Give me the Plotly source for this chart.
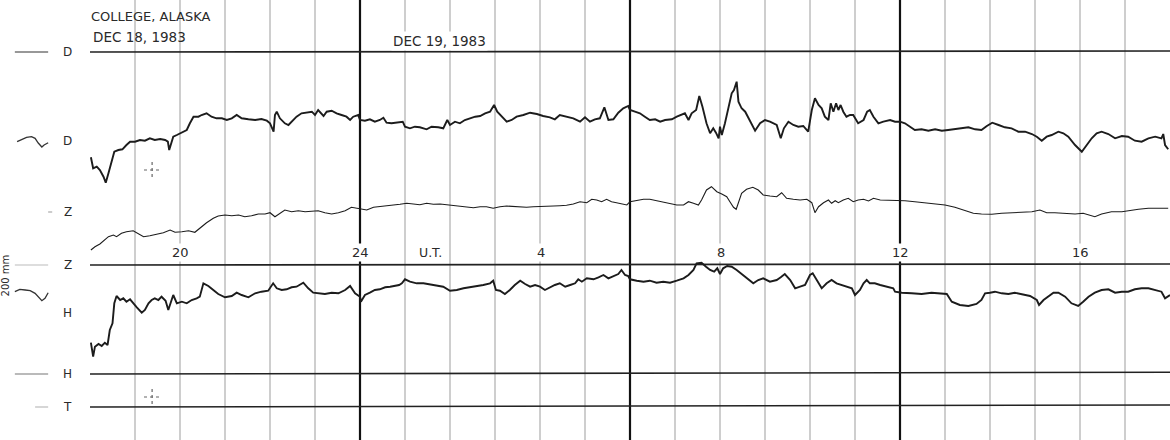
import plotly.graph_objects as go

# ---------------- data ----------------
# time axis: hours UT counted from 00 UT Dec 18 (18 -> 18 UT Dec 18, 42 -> 18 UT Dec 19)
# values: trace position on the record (chart units, increasing downward)

D_hours = [18.02,18.07,18.15,18.22,18.30,18.35,18.41,18.48,18.54,18.63,18.72,18.81,18.89,19.00,19.11,19.22,19.33,19.44,19.56,19.67,
           19.73,19.76,19.80,19.85,19.93,20.04,20.15,20.22,20.30,20.41,20.48,20.59,20.70,20.81,20.93,21.04,21.15,21.26,21.37,21.52,
           21.67,21.81,21.93,22.00,22.05,22.08,22.11,22.15,22.22,22.33,22.41,22.52,22.59,22.70,22.81,22.93,23.00,23.07,23.19,23.26,
           23.37,23.48,23.59,23.70,23.78,23.85,23.96,
           24.00,24.11,24.22,24.33,24.44,24.52,24.59,24.70,24.81,24.95,25.00,25.11,25.22,25.33,25.48,25.59,25.74,25.85,25.94,26.00,
           26.11,26.22,26.33,26.44,26.56,26.67,26.78,26.89,26.98,27.05,27.15,27.26,27.37,27.48,27.63,27.78,27.93,28.07,28.22,28.33,
           28.44,28.59,28.74,28.89,29.00,29.11,29.22,29.33,29.43,29.52,29.63,29.74,29.85,29.96,
           30.00,30.11,30.22,30.33,30.44,30.56,30.67,30.78,30.93,31.04,31.15,31.22,31.30,31.37,31.47,31.54,31.61,31.70,31.78,31.85,
           31.91,31.97,32.00,32.04,32.11,32.19,32.26,32.31,32.37,32.41,32.48,32.56,32.67,32.78,32.89,33.00,33.11,33.26,33.35,33.42,
           33.52,33.63,33.74,33.85,33.96,34.04,34.11,34.19,34.26,34.33,34.41,34.46,34.52,34.58,34.63,34.68,34.74,34.81,34.89,34.96,
           35.07,35.19,35.27,35.33,35.41,35.52,35.63,35.78,
           35.89,36.00,36.11,36.22,36.33,36.48,36.63,36.78,36.93,37.07,37.22,37.37,37.52,37.67,37.81,37.93,38.05,38.19,38.33,38.48,
           38.63,38.78,38.93,39.04,39.15,39.26,39.37,39.52,39.63,39.74,39.89,40.04,40.15,40.26,40.37,40.48,40.63,40.78,40.93,41.07,
           41.22,41.37,41.52,41.67,41.81,41.85,41.89,41.96]
D_vals = [157.3,168.3,166.7,170,176.7,182.7,173.3,160,151.7,150,149.3,145,141.7,141.7,140,140.7,138.3,140,139,140,
          141.7,150,143.3,136.7,135,132.7,130,123.3,116.7,116.7,115,113.3,116.7,118.3,118.3,120,118.3,115,118.3,119.3,
          120,119,120.7,123.3,128.3,131.7,115,111.7,118.3,123.3,125,120,116.7,113.3,112.7,111.7,115,110,116,111.7,
          110.7,113.3,115,116.7,120,116.7,115,
          120,120.7,119.3,121.7,120,117.7,122.7,123.3,122.7,121.7,126.7,128.3,126.7,127.3,129.3,126.7,127.3,128.3,120,125,
          121.7,123.3,120,118.3,116.7,116,113.3,111.7,105,111.7,116.7,121.7,120,116.7,115,112.7,114,116,117.3,119.3,
          115,116.7,118.3,121.7,117.3,121.7,119.3,118.3,107.3,120,119.3,112.7,108.3,106,
          110,111.7,113.3,116.7,120,119.3,121.7,120,119.3,116.7,115,113.3,120,113.3,110,96,106.7,123.3,133.3,128.3,
          132.7,138.3,126.7,135,123.3,106.7,93.3,90,81.7,101.7,108.3,111.7,121.7,130.7,123.3,120,121.7,125,138.3,128.3,
          121.7,125,126.7,126,131.7,110,98.3,105,108.3,116.7,120,103.3,111.7,103.3,110,105,111.7,116.7,115,115,
          123.3,120,111.7,110,116.7,123.3,121.7,120,
          121.7,121.7,123.3,126.7,130,129.3,130.7,129.3,130.7,130,129.3,128.3,127.3,129.3,130,126,122.7,125,127.3,128.3,
          131.7,131.7,134,136.7,140.7,136.7,135,131.7,133.3,136.7,145,151.7,145,138.3,133.3,131.7,134,138.3,136,136.7,
          140.7,141.7,138.3,136.7,138.3,134,145,149.3]

Z_hours = [18.02,18.11,18.22,18.33,18.41,18.52,18.59,18.70,18.81,18.96,19.07,19.19,19.33,19.48,19.63,19.78,19.89,20.04,20.19,20.33,
           20.44,20.59,20.74,20.85,21.00,21.15,21.30,21.44,21.59,21.74,21.89,22.00,22.11,22.19,22.33,22.48,22.63,22.78,22.93,23.07,
           23.22,23.37,23.52,23.67,23.81,23.96,
           24.00,24.15,24.30,24.44,24.59,24.74,24.89,25.04,25.19,25.33,25.48,25.63,25.78,25.93,26.07,26.22,26.37,26.52,26.67,26.81,
           26.96,27.11,27.26,27.41,27.56,27.70,27.85,28.00,28.15,28.30,28.44,28.59,28.74,28.89,29.04,29.15,29.26,29.37,29.48,29.59,
           29.70,29.81,29.93,
           30.00,30.15,30.30,30.44,30.59,30.74,30.89,31.04,31.19,31.30,31.41,31.52,31.59,31.70,31.81,31.93,32.04,32.15,32.22,32.30,
           32.36,32.41,32.48,32.59,32.73,32.85,32.96,33.11,33.26,33.37,33.48,33.63,33.78,33.93,34.04,34.11,34.19,34.30,34.41,34.48,
           34.56,34.63,34.74,34.85,34.96,35.07,35.19,35.30,35.41,35.56,35.70,35.85,
           35.89,36.11,36.33,36.55,36.78,37.00,37.22,37.44,37.63,37.81,38.04,38.26,38.48,38.70,38.93,39.11,39.26,39.44,39.67,39.89,
           40.07,40.19,40.33,40.48,40.70,40.93,41.07,41.30,41.52,41.74,41.96]
Z_vals = [250,246.7,244,240,236.7,235,236.7,233.3,231.7,230.7,233.3,236.7,235.7,234.3,232.7,230,232.3,231.7,230.7,232.3,
          228.3,222.7,218.3,216,215,215.7,215,216.7,215.7,214,214,212.7,216.7,214,210,211.7,210.7,211.7,211,210.7,
          212.7,214,212.7,210.7,207.3,208.3,
          209.3,210,207.3,206.7,206,205.3,204.3,203.3,204,204.7,203.3,204.3,204,204.7,206,206,207.3,207.7,206.7,206.7,
          208.3,206.7,206,206.7,207.3,207.3,206.7,206.7,206.7,206,205.7,205.3,204,201.7,202.7,199.3,200,201.7,199.3,201.7,
          202.7,204,205,
          201.7,200.7,199.3,199.3,200.7,202.7,204,205,205,201.7,203.3,205,200,190,186.7,191.7,194,196.7,201.7,207.3,
          209.3,201.7,193.3,189.3,187.3,190,195,196,196.7,192.7,198.3,199.3,200,199.3,202.7,212.7,206.7,202.7,200,203.3,
          200.7,202.7,200,198.3,201.7,200,199.3,201,198.3,200,200,200,
          200,200.7,201.7,202.7,204,205,207.3,210.7,213.3,214,214.3,213.3,212.7,211.7,211.7,210,212.7,212.7,213.3,214,
          213.3,215,216.7,214,211.7,211.7,210.7,209.3,208.3,208.3,208.3]

H_hours = [18.02,18.07,18.11,18.19,18.26,18.33,18.39,18.44,18.50,18.54,18.59,18.67,18.74,18.81,18.89,18.96,19.04,19.15,19.22,19.30,
           19.37,19.44,19.52,19.59,19.68,19.74,19.80,19.85,19.93,20.04,20.15,20.26,20.37,20.44,20.52,20.63,20.74,20.85,21.00,21.15,
           21.26,21.37,21.52,21.67,21.81,21.96,22.07,22.15,22.26,22.37,22.48,22.59,22.74,22.85,22.96,23.07,23.22,23.37,23.52,23.67,
           23.78,23.89,24.00,24.02,
           24.11,24.22,24.33,24.44,24.56,24.67,24.78,24.87,24.93,25.00,25.11,25.26,25.41,25.56,25.70,25.85,26.00,26.15,26.30,26.44,
           26.59,26.74,26.89,26.96,27.02,27.11,27.22,27.33,27.44,27.56,27.67,27.78,27.89,28.00,28.11,28.22,28.33,28.44,28.56,28.67,
           28.78,28.85,28.93,29.04,29.19,29.30,29.41,29.52,29.63,29.74,29.81,29.89,29.96,
           30.00,30.15,30.30,30.44,30.59,30.74,30.89,31.04,31.19,31.30,31.41,31.48,31.59,31.69,31.78,31.87,31.94,32.00,32.07,32.16,
           32.26,32.37,32.48,32.59,32.74,32.85,32.96,33.11,33.26,33.35,33.44,33.56,33.67,33.78,33.89,34.00,34.06,34.15,34.26,34.37,
           34.48,34.59,34.70,34.81,34.93,35.00,35.11,35.19,35.26,35.33,35.44,35.56,35.70,35.85,
           35.89,36.04,36.26,36.48,36.70,36.93,37.04,37.15,37.33,37.52,37.70,37.81,37.89,38.00,38.11,38.26,38.41,38.55,38.70,38.89,
           39.04,39.09,39.19,39.30,39.41,39.52,39.67,39.81,39.96,40.07,40.19,40.33,40.48,40.63,40.78,40.93,41.07,41.22,41.37,41.52,
           41.67,41.81,41.89,42.00]
H_vals = [342.7,356.7,346.7,344,346,342.7,345,330,323.3,303.3,296,300,298.3,301.7,299.3,303.3,307.3,312.7,310,303.3,
          300,298.3,300,296.7,300.7,310,301.7,295,303.3,301.7,303.3,300,298.3,296.7,283.3,286,290,294,297.3,296,
          292.7,295,297.3,293.3,291.7,290.7,283.3,288.3,290,289.3,287.3,286.7,282.7,288.3,292.7,293.3,294,292.7,293.3,290,
          286,293.3,296.7,301.7,
          295,292.7,290,289.3,287.3,286.7,286,285,283.3,279.3,281.7,283.3,283.3,284.3,285,286.7,290.7,290,288.3,287.3,
          286,285,283.3,280.7,290,290.7,294,290,285,280.7,284,286.7,285,286.7,290,287.3,285,283.3,286.7,285,
          283.3,279.3,281.7,278.3,279.3,277.3,275,278.3,276,274,270,275,276,
          279.3,280.7,281.7,280.7,282.7,281.7,282.7,280.7,278.3,275,270,263.3,262.7,266.7,270,271.7,268.3,274,268.3,266,
          266.7,270,274,278.3,283.3,280,278.3,281.7,280,277.3,274,280,288.3,286.7,285,275,273.3,280,288.3,283.3,
          280,283.3,285,286.7,288.3,295,290,283.3,280,283.3,283.3,285,286.7,288.3,
          291.7,292.7,293.3,294,292.7,293.3,294,301.7,305,306,304,300,293.3,292.7,291.7,293.3,294,292.7,294,296,
          300,305,300,296,292.7,292.7,296.7,303.3,306,301.7,296.7,292.7,290,289.3,292.7,291.7,291.7,289.3,288.3,288.3,
          290,291.7,298.3,295]

# small calibration samples drawn left of the labels
D_cal_hours = [16.38,16.48,16.59,16.70,16.78,16.85,16.93,16.98,17.07]
D_cal_vals = [141.7,139.3,137.3,136.7,138.3,143,147,145,142.7]
H_cal_hours = [16.33,16.44,16.56,16.67,16.78,16.85,16.93,17.00,17.07]
H_cal_vals = [291.7,289.3,290,290.7,293.3,296.7,300.7,298.3,292.7]

# baselines (start value, end value) and their labels
baseline_names = ["D", "Z", "H", "T"]
baseline_start = [52, 265, 374, 407]
baseline_end = [51, 264, 372.3, 405]

# hour grid
grid_hours = list(range(19, 42))
major_hours = [24, 30, 36]
tick_hours = [20, 24, 28, 32, 36, 40]
tick_labels = ["20", "24", "4", "8", "12", "16"]

assert len(D_hours) == len(D_vals)
assert len(Z_hours) == len(Z_vals)
assert len(H_hours) == len(H_vals)

FONT = "DejaVu Sans, Liberation Sans, Arial, sans-serif"
INK = "#1c1c1c"

fig = go.Figure()
for hrs, vals, w in [(D_hours, D_vals, 1.9), (Z_hours, Z_vals, 1.1), (H_hours, H_vals, 1.9)]:
    fig.add_trace(go.Scatter(x=hrs, y=vals, mode="lines", line=dict(color=INK, width=w),
                             hoverinfo="skip"))
for hrs, vals in [(D_cal_hours, D_cal_vals), (H_cal_hours, H_cal_vals)]:
    fig.add_trace(go.Scatter(x=hrs, y=vals, mode="lines", line=dict(color="#333", width=1.3),
                             hoverinfo="skip"))

shapes = []
for h in grid_hours:
    major = h in major_hours
    shapes.append(dict(type="line", xref="x", yref="paper", x0=h, x1=h, y0=0, y1=1,
                       line=dict(color="#111" if major else "#a6a6a6", width=2.2 if major else 1.1),
                       layer="below"))
for name, s, e in zip(baseline_names, baseline_start, baseline_end):
    shapes.append(dict(type="line", xref="x", yref="y", x0=18, x1=42, y0=s, y1=e,
                       line=dict(color="#222", width=1.6), layer="below"))

# short reference marks left of the labels
left_marks = [(16.33, 17.07, 52, "#333"), (17.07, 17.16, 212, "#aaa"), (16.33, 17.07, 265, "#bbb"),
              (16.33, 17.07, 374, "#777"), (16.78, 17.07, 407, "#bbb")]
for x0, x1, yy, c in left_marks:
    shapes.append(dict(type="line", xref="x", yref="y", x0=x0, x1=x1, y0=yy, y1=yy,
                       line=dict(color=c, width=1.2)))

# dashed registration crosses
for cy in [170, 397]:
    shapes.append(dict(type="line", xref="x", yref="y", x0=19.2, x1=19.58, y0=cy, y1=cy,
                       line=dict(color="#666", width=1.2, dash="dot")))
    shapes.append(dict(type="line", xref="x", yref="y", x0=19.38, x1=19.38, y0=cy - 8, y1=cy + 8,
                       line=dict(color="#666", width=1.2, dash="dot")))

ann = []
def txt(x, y, t, size=12, xanchor="center", bg=None, angle=0, color="#2a2a2a"):
    d = dict(x=x, y=y, xref="x", yref="y", text=t, showarrow=False, xanchor=xanchor,
             yanchor="middle", textangle=angle, font=dict(family=FONT, size=size, color=color))
    if bg:
        d["bgcolor"] = bg
        d["borderpad"] = 1
    ann.append(d)

txt(17.98, 16, "COLLEGE, ALASKA", 13, "left")
txt(18.03, 37, "DEC 18, 1983", 13.5, "left")
txt(24.69, 41, "DEC 19, 1983", 13.5, "left", bg="white")
for h, lab in zip(tick_hours, tick_labels):
    txt(h + 0.02, 252, lab, 13, bg="white")
txt(25.56, 252, "U.T.", 12.5, bg="white")
side_labels = [("D", 52), ("D", 141), ("Z", 212), ("Z", 265), ("H", 313), ("H", 374), ("T", 407)]
for lab, yy in side_labels:
    txt(17.51, yy, lab, 12)
txt(16.12, 275, "200 mm", 10, angle=-90)

fig.update_layout(
    width=1170, height=440,
    margin=dict(l=0, r=0, t=0, b=0),
    paper_bgcolor="white", plot_bgcolor="white",
    showlegend=False,
    xaxis=dict(range=[16, 42], visible=False, fixedrange=True),
    yaxis=dict(range=[440, 0], visible=False, fixedrange=True),
    shapes=shapes, annotations=ann,
)

fig.write_html("out.html", config={"displayModeBar": False, "staticPlot": True},
               post_script="document.body.style.margin='0';document.body.style.overflow='hidden';")
